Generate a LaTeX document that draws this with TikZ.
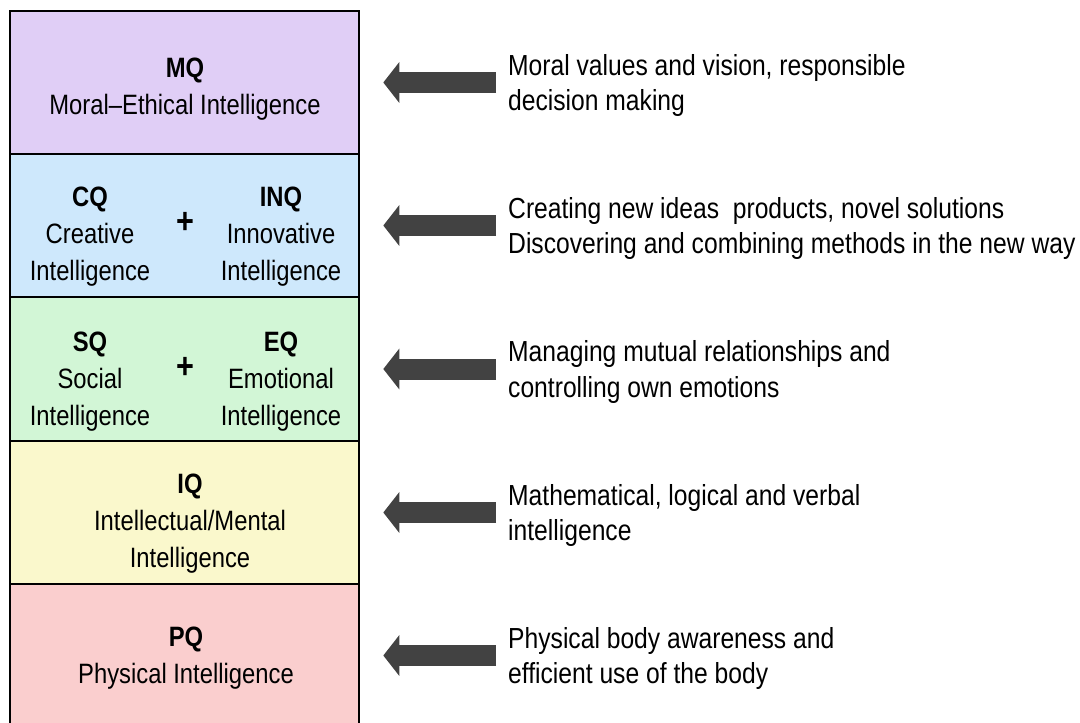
\documentclass[tikz,border=0pt]{standalone}
\usepackage{fontspec}
\setmainfont{Liberation Sans}[FakeStretch=0.85]
\usetikzlibrary{arrows.meta}

\definecolor{mqfill}{RGB}{224,206,246}
\definecolor{cqfill}{RGB}{206,232,252}
\definecolor{sqfill}{RGB}{210,246,214}
\definecolor{iqfill}{RGB}{250,248,204}
\definecolor{pqfill}{RGB}{250,206,206}
\definecolor{arrowgray}{RGB}{66,66,66}

\begin{document}
\begin{tikzpicture}[x=1pt,y=-1pt,
  rowbox/.style={draw=black, line width=1.6pt, minimum width=349pt, minimum height=143pt, inner sep=0pt},
  lbl/.style={align=center, inner sep=0pt, anchor=north, font=\fontsize{28}{37}\selectfont},
  plus/.style={inner sep=0pt, font=\bfseries\fontsize{36}{40}\selectfont},
  desc/.style={align=left, inner sep=0pt, anchor=north west, font=\fontsize{29}{35.5}\selectfont},
  bigarrow/.style={draw=arrowgray, line width=21pt, -{Triangle[length=16pt,width=40pt]}, shorten <=12pt, shorten >=23.5pt}]

\useasboundingbox (0,0) rectangle (1080,723);
\clip (0,0) rectangle (1080,723);

% left column
\node[rowbox, fill=mqfill] (mq) at (184.5,82.5) {};
\node[rowbox, fill=cqfill] (cq) at (184.5,225.5) {};
\node[rowbox, fill=sqfill, minimum height=144pt] (sq) at (184.5,369) {};
\node[rowbox, fill=iqfill] (iq) at (184.5,512.5) {};
\node[rowbox, fill=pqfill] (pq) at (184.5,655.5) {};

\node[lbl] (mqlbl) at (185,58) {\textbf{MQ}\\Moral–Ethical Intelligence};

\node[lbl] (cqlbl) at (90,187) {\textbf{CQ}\\Creative\\Intelligence};
\node[plus] (cqplus) at (185,223) {+};
\node[lbl] (inqlbl) at (281,187) {\textbf{INQ}\\Innovative\\Intelligence};

\node[lbl] (sqlbl) at (90,332) {\textbf{SQ}\\Social\\Intelligence};
\node[plus] (sqplus) at (185,368) {+};
\node[lbl] (eqlbl) at (281,332) {\textbf{EQ}\\Emotional\\Intelligence};

\node[lbl] (iqlbl) at (190,474) {\textbf{IQ}\\Intellectual/Mental\\Intelligence};

\node[lbl] (pqlbl) at (186,627) {\textbf{PQ}\\Physical Intelligence};

% right column
\node[desc] (mqdesc) at (508,54) {Moral values and vision, responsible\\decision making};
\node[desc] (cqdesc) at (508,197) {Creating new ideas~ products, novel solutions\\Discovering and combining methods in the new way};
\node[desc] (sqdesc) at (508,340.5) {Managing mutual relationships and\\controlling own emotions};
\node[desc] (iqdesc) at (508,484) {Mathematical, logical and verbal\\intelligence};
\node[desc] (pqdesc) at (508,627) {Physical body awareness and\\efficient use of the body};

\draw[bigarrow] (mq.east -| mqdesc.west) -- (mq.east);
\draw[bigarrow] (cq.east -| cqdesc.west) -- (cq.east);
\draw[bigarrow] (sq.east -| sqdesc.west) -- (sq.east);
\draw[bigarrow] (iq.east -| iqdesc.west) -- (iq.east);
\draw[bigarrow] (pq.east -| pqdesc.west) -- (pq.east);

\end{tikzpicture}
\end{document}
